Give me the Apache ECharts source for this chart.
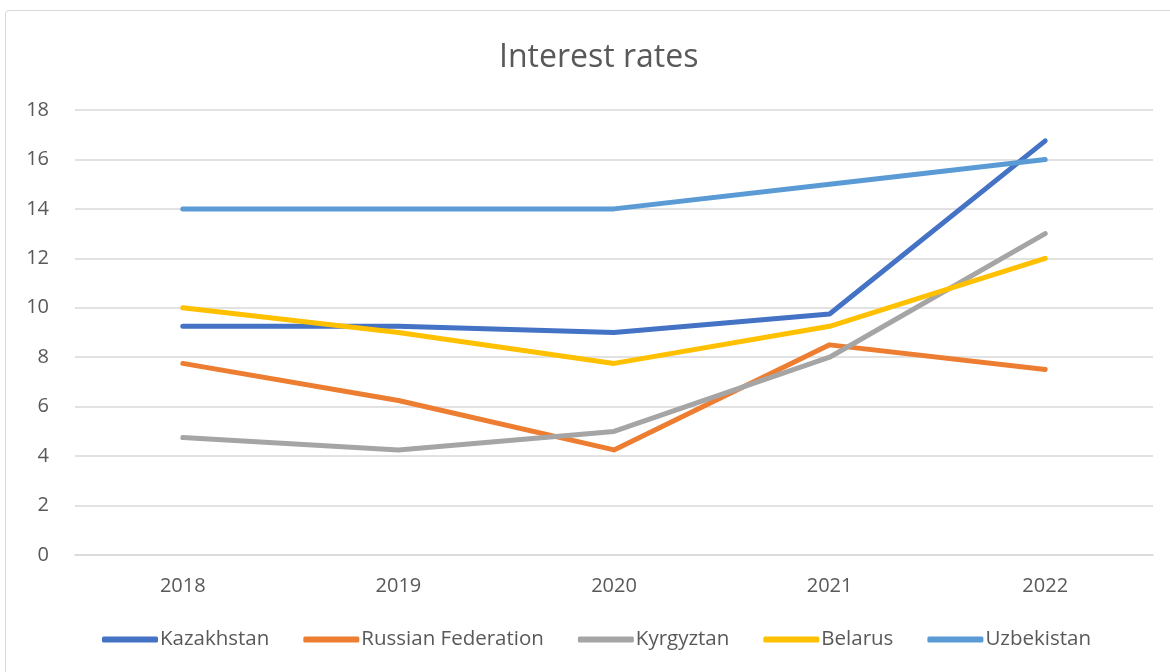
<!DOCTYPE html>
<html>
<head>
<meta charset="utf-8">
<style>
  html, body { margin: 0; padding: 0; background: #fff; }
  #wrap { position: relative; width: 1170px; height: 672px; overflow: hidden; }
  #frame { position: absolute; left: 5px; top: 10px; width: 1200px; height: 700px;
           border: 1px solid #d9d9d9; border-radius: 4px; pointer-events: none; }
  #chart { position: absolute; left: 0; top: 0; width: 1170px; height: 672px; }
</style>
<script src="https://cdn.jsdelivr.net/npm/echarts@6/dist/echarts.min.js"></script>
</head>
<body>
<div id="wrap">
  <div id="frame"></div>
  <div id="chart"></div>
</div>
<script>
const years = ['2018', '2019', '2020', '2021', '2022']
const kazakhstan = [9.25, 9.25, 9.0, 9.75, 16.75]
const russia = [7.75, 6.25, 4.25, 8.5, 7.5]
const kyrgyztan = [4.75, 4.25, 5.0, 8.0, 13.0]
const belarus = [10.0, 9.0, 7.75, 9.25, 12.0]
const uzbekistan = [14, 14, 14, 15, 16]

const FONT = '"Open Sans", "Noto Sans", sans-serif'
const TEXT = '#595959'

function lineSeries(name, data, color) {
  return {
    name,
    type: 'line',
    data,
    symbol: 'none',
    lineStyle: { width: 5, color, cap: 'round', join: 'round' },
    itemStyle: { color },
    animation: false
  }
}

const chart = echarts.init(document.getElementById('chart'))
chart.setOption({
  title: {
    text: 'Interest rates',
    left: 494,
    top: 37,
    textStyle: { fontFamily: FONT, fontSize: 32, fontWeight: 'normal', color: TEXT }
  },
  legend: {
    bottom: 17,
    left: 97,
    itemGap: 34,
    itemWidth: 56,
    itemHeight: 6,
    icon: 'roundRect',
    textStyle: { fontFamily: FONT, fontSize: 20.5, color: TEXT, padding: [0, 0, 0, -3] },
    data: ['Kazakhstan', 'Russian Federation', 'Kyrgyztan', 'Belarus', 'Uzbekistan']
  },
  grid: { left: 75, right: 17, top: 110, bottom: 117 },
  xAxis: {
    type: 'category',
    data: years,
    boundaryGap: true,
    axisLine: { lineStyle: { color: '#d9d9d9', width: 1.5 } },
    axisTick: { show: false },
    axisLabel: { fontFamily: FONT, fontSize: 20, color: TEXT, margin: 21 }
  },
  yAxis: {
    type: 'value',
    min: 0,
    max: 18,
    interval: 2,
    axisLine: { show: false },
    axisTick: { show: false },
    splitLine: { lineStyle: { color: '#d9d9d9', width: 1.5 } },
    axisLabel: { fontFamily: FONT, fontSize: 20, color: TEXT, margin: 26 }
  },
  series: [
    lineSeries('Kazakhstan', kazakhstan, '#4472C4'),
    lineSeries('Russian Federation', russia, '#ED7D31'),
    lineSeries('Kyrgyztan', kyrgyztan, '#A5A5A5'),
    lineSeries('Belarus', belarus, '#FFC000'),
    lineSeries('Uzbekistan', uzbekistan, '#5B9BD5')
  ]
})
</script>
</body>
</html>
